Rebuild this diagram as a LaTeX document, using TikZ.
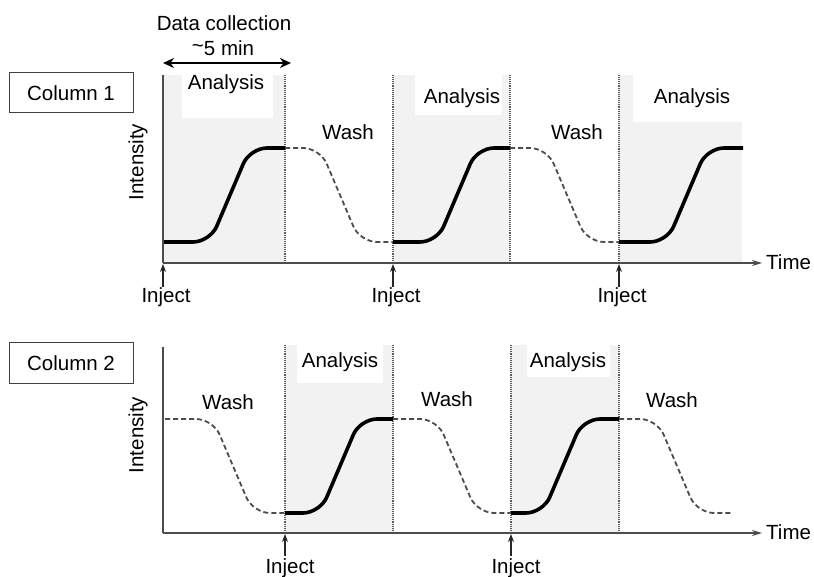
\documentclass[tikz,border=0pt]{standalone}
\usepackage{fontspec}
\setmainfont{Liberation Sans}
\usetikzlibrary{arrows.meta}
\begin{document}
\begin{tikzpicture}[x=1pt,y=-1pt,
  axis/.style={draw=black!70, line width=1.5pt},
  sepline/.style={draw=black!65, line width=1.1pt, densely dotted},
  band/.style={fill=black!5, draw=none},
  gap/.style={fill=white, draw=none},
  sig/.style={draw=black, line width=3.6pt, rounded corners=17pt},
  washcurve/.style={draw=black!70, line width=1.8pt, dash pattern=on 5pt off 3pt, rounded corners=17pt},
  txt/.style={font=\fontsize{20.5}{24}\selectfont, inner sep=0pt, text=black},
  colbox/.style={txt, draw=black!75, line width=1pt, minimum width=124pt, minimum height=40pt},
  injarrow/.style={draw=black!85, line width=1.1pt, -{Stealth[length=8pt,width=6pt]}},
  timearrow/.style={axis, -{Stealth[length=10pt,width=6pt]}}
]
\useasboundingbox (0,0) rectangle (814,577);

% ---------------- upper panel: column 1 ----------------
\fill[band] (163,75) rectangle (285,263);
\fill[band] (393,75) rectangle (510,263);
\fill[band] (619,75) rectangle (742,263);
\fill[gap] (182,75) rectangle (273,118);
\fill[gap] (415,75) rectangle (502,115);
\fill[gap] (633,75) rectangle (742,122);

\foreach \xx in {285,393,510,619} \draw[sepline] (\xx,75) -- (\xx,263);

\draw[sig] (163,242) -- (210,242) -- (250,148) -- (285,148);
\draw[washcurve] (285,148) -- (320,148) -- (360,242) -- (393,242);
\draw[sig] (393,242) -- (437,242) -- (477,148) -- (510,148);
\draw[washcurve] (510,148) -- (547,148) -- (587,242) -- (619,242);
\draw[sig] (619,242) -- (667,242) -- (707,148) -- (743,148);

\coordinate (o1) at (163,263);
\coordinate (top1) at (163,75);
\coordinate (end1) at (762,263);
\draw[axis] (top1) -- (o1);
\draw[timearrow] (o1) -- (end1);
\node[txt, anchor=west] (time1) at (766,262) {Time};
\node[txt, rotate=90] (int1) at (138,162) {Intensity};
\node[colbox] (col1) at (71,93) {Column 1};

\coordinate (dcL) at (163,63);
\coordinate (dcR) at (291,63);
\draw[line width=2.6pt, {Stealth[length=11pt,width=10pt]}-{Stealth[length=11pt,width=10pt]}] (dcL) -- (dcR);
\node[txt] (dc) at (224,23) {Data collection};
\node[txt] (dcmin) at (223,48) {\raisebox{0.3ex}{\char`\~}5 min};

\node[txt] (an11) at (226,84) {Analysis};
\node[txt] (an12) at (462,98) {Analysis};
\node[txt] (an13) at (692,98) {Analysis};
\node[txt] (wa11) at (348,132) {Wash};
\node[txt] (wa12) at (577,132) {Wash};

\foreach \xx/\nm in {163/a,393/b,619/c}{
  \coordinate (inj1\nm) at (\xx,287);
  \coordinate (hit1\nm) at (\xx,264);
  \draw[injarrow] (inj1\nm) -- (hit1\nm);
  \node[txt] (injt1\nm) at (\xx+3,297) {Inject};
}

% ---------------- lower panel: column 2 ----------------
\fill[band] (285,345) rectangle (393,533);
\fill[band] (511,345) rectangle (619,533);
\fill[gap] (297,345) rectangle (383,383);
\fill[gap] (527,345) rectangle (610,377);

\foreach \xx in {285,393,511,619} \draw[sepline] (\xx,345) -- (\xx,533);

\draw[washcurve] (165,419) -- (213,419) -- (253,513) -- (285,513);
\draw[sig] (285,513) -- (320,513) -- (360,419) -- (393,419);
\draw[washcurve] (393,419) -- (437,419) -- (477,513) -- (511,513);
\draw[sig] (511,513) -- (543,513) -- (583,419) -- (619,419);
\draw[washcurve] (619,419) -- (657,419) -- (697,513) -- (732,513);

\coordinate (o2) at (163,533);
\coordinate (top2) at (163,347);
\coordinate (end2) at (762,533);
\draw[axis] (top2) -- (o2);
\draw[timearrow] (o2) -- (end2);
\node[txt, anchor=west] (time2) at (766,532) {Time};
\node[txt, rotate=90] (int2) at (138,435) {Intensity};
\node[colbox] (col2) at (71,363) {Column 2};

\node[txt] (an21) at (340,362) {Analysis};
\node[txt] (an22) at (568,362) {Analysis};
\node[txt] (wa21) at (228,402) {Wash};
\node[txt] (wa22) at (447,399) {Wash};
\node[txt] (wa23) at (672,400) {Wash};

\foreach \xx/\nm in {285/a,511/b}{
  \coordinate (inj2\nm) at (\xx,556);
  \coordinate (hit2\nm) at (\xx,534);
  \draw[injarrow] (inj2\nm) -- (hit2\nm);
  \node[txt] (injt2\nm) at (\xx+5,568) {Inject};
}
\end{tikzpicture}
\end{document}
